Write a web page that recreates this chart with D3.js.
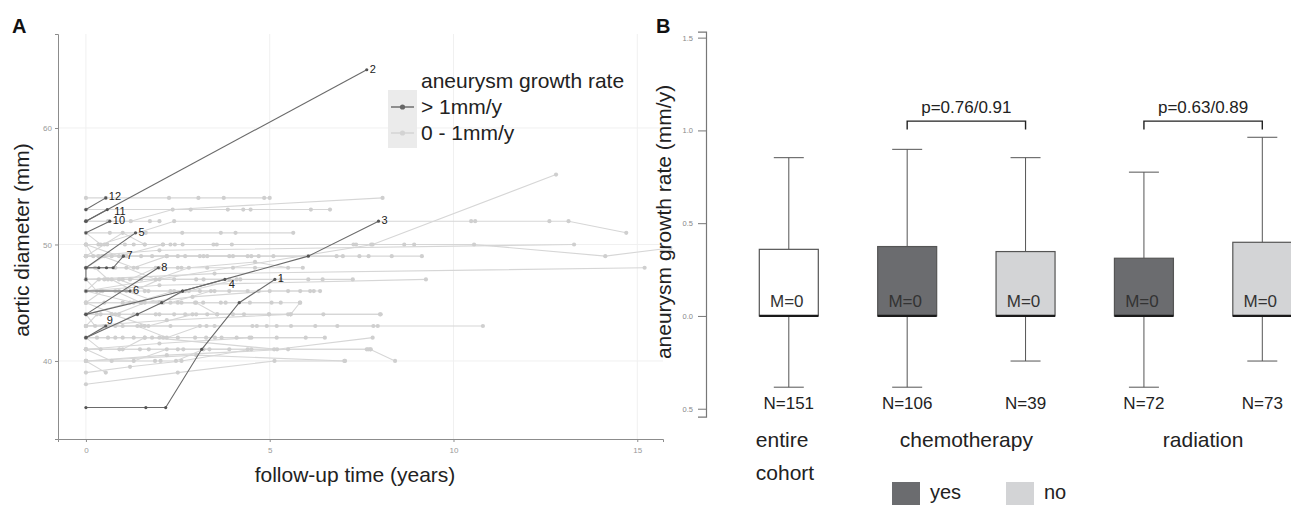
<!DOCTYPE html>
<html>
<head>
<meta charset="utf-8">
<script src="https://cdn.jsdelivr.net/npm/d3@7"></script>
<style>
  body { margin: 0; background: #fff; }
  svg text { font-family: "Liberation Sans", Arial, sans-serif; }
</style>
</head>
<body>
<svg id="chart" width="1291" height="505"></svg>
<script>
// ---------- panel A data: follow-up time (years), aortic diameter (mm)
const xTicksA = [0, 5, 10, 15];
const yTicksA = [40, 50, 60];

// patients with growth 0 - 1 mm/y
const slowSeries = [
  [[0,54],[0.54,54],[2.26,54],[3.06,54],[3.75,54],[4.85,54],[5.0,54]],
  [[0,53],[2.85,53],[3.86,53],[4.28,53],[4.48,53],[6.12,53],[6.64,53]],
  [[0,52],[1.22,52],[2.36,53],[8.07,54]],
  [[0,52],[0.6,52],[1.74,52],[2.0,52]],
  [[0,51],[0.65,51],[1.63,51],[2.62,51],[3.67,51],[4.07,51],[5.64,51]],
  [[0,51],[0.4,50],[2.4,52],[10.48,52],[10.59,52],[12.61,52],[13.13,52],[14.7,51]],
  [[0,50],[0.34,50],[0.58,50],[1.06,50],[1.6,50],[2.09,50],[2.42,50],[2.63,50],[3.47,50],[3.56,50],[3.97,50]],
  [[0,50],[0.9,49],[2.1,50],[7.28,50],[7.35,50],[7.76,50],[8.66,50],[8.93,50]],
  [[0,50],[1.3,50],[10.56,50],[14.13,49],[15.9,49.7]],
  [[0,49],[2.0,49.5],[13.28,50]],
  [[0,49],[0.34,49],[0.7,49],[1.1,49],[1.5,49],[2.2,49],[2.7,49],[3.3,49],[3.9,49],[4.5,49],[5.1,49],[6.82,49],[6.99,49]],
  [[0,49],[1.0,49],[2.5,49],[4.0,49],[7.44,49],[7.69,49],[8.32,49],[9.14,49]],
  [[0,48],[0.5,49],[1.8,49],[3.2,49],[4.4,49]],
  [[0,48],[0.8,48],[1.4,48],[2.0,48],[2.6,48],[3.3,48],[4.0,48],[4.6,48],[5.9,48]],
  [[0,47],[3.5,47.5],[15.2,48]],
  [[0,46],[7.8,50],[12.79,56]],
  [[0,48],[1.1,48],[1.9,47],[2.8,48],[4.6,48.5],[5.5,48]],
  [[0,47],[0.5,47],[1.0,47],[1.5,47],[2.4,47],[3.2,47],[4.2,47],[5.3,47],[6.05,47],[6.44,47],[7.26,47]],
  [[0,46],[2.0,46.5],[9.25,47]],
  [[0,47],[0.7,47],[1.3,46],[2.0,47],[3.0,47],[3.9,47]],
  [[0,46],[0.4,46],[0.9,46],[1.6,46],[2.3,46],[3.1,46],[3.9,46],[4.7,46],[5.5,46],[5.83,46],[6.1,46],[6.37,46]],
  [[0,46],[1.3,45],[2.4,46],[3.5,46],[4.4,46]],
  [[0,45],[1.5,45],[2.9,45.5],[5.0,46],[6.2,46]],
  [[0,45],[0.5,45],[1.0,45],[1.5,45],[2.1,45],[2.97,45],[3.19,45],[3.67,45],[3.8,45],[4.46,45],[5.05,45],[5.3,45]],
  [[0,45],[0.8,44],[1.6,45],[2.5,45],[3.0,45],[3.57,44],[4.98,44],[5.57,44],[5.82,45]],
  [[0,44],[1.2,45],[2.6,45],[5.83,45]],
  [[0,44],[0.4,44],[0.9,44],[1.4,44],[2.0,44],[2.7,44],[3.57,44],[4.98,44],[5.57,44],[6.46,44],[8.02,44]],
  [[0,44],[0.7,44],[1.7,43],[2.9,44],[4.0,44]],
  [[0,43],[2.2,43.5],[5.5,44],[8.0,44]],
  [[0,43],[0.5,43],[1.0,43],[1.6,43],[2.3,43],[3.28,43],[4.53,43],[4.65,43],[4.92,43],[5.19,43],[5.58,43],[6.24,43],[6.84,43],[7.82,43],[7.94,43]],
  [[0,43],[1.5,43],[3.5,43],[10.8,43]],
  [[0,42],[0.6,43],[1.4,43],[2.2,42],[3.1,43]],
  [[0,42],[0.3,42],[0.6,42],[0.8,42],[1.0,42],[1.3,42],[1.6,42],[2.0,42],[2.5,42],[2.97,42],[3.27,42],[3.51,42],[3.69,42],[4.1,42],[4.45,42],[5.19,42],[5.98,42]],
  [[0,42],[1.8,42],[5.2,41],[7.8,42]],
  [[0,41],[2.0,41.5],[4.5,42],[6.5,42]],
  [[0,41],[0.91,41],[1.47,41],[1.71,41],[2.65,41],[3.36,41],[4.4,41],[5.12,41]],
  [[0,41],[2.5,41],[7.64,41],[7.73,41],[8.41,40]],
  [[0,40],[2.2,40.5],[5.5,41],[7.68,41],[7.75,41]],
  [[0,40],[1.88,40],[2.03,40],[2.45,40],[3.2,41]],
  [[0,40],[0.54,39]],
  [[0,40],[3.0,40.5],[7.05,40]],
  [[0,39],[1.2,39.5],[2.6,40],[4.5,41]],
  [[0,38],[2.5,39],[5.13,40],[7.03,40]],
  [[0,50],[0.2,49],[0.45,49],[1.3,48],[2.2,49],[3.1,49],[4.7,49]],
  [[0,48],[0.25,48],[0.6,47],[1.2,47],[1.9,48],[2.5,48]],
  [[0,47],[0.3,46],[0.8,46],[1.5,45],[2.3,45],[3.4,46]],
  [[0,46],[0.35,47],[0.9,47],[1.7,46],[2.8,46],[4.1,47]],
  [[0,45],[0.45,46],[1.1,46],[2.0,45],[2.7,46]],
  [[0,44],[0.25,43],[0.8,43],[1.3,44],[2.4,44],[3.3,44]],
  [[0,43],[0.3,44],[0.7,44],[1.9,44],[3.0,44],[4.3,44]],
  [[0,42],[0.4,41],[1.0,41],[1.6,42],[2.1,42]],
  [[0,41],[0.7,40],[1.3,40],[2.2,41],[3.9,41]],
  [[0,49],[0.5,50],[1.0,51],[1.6,50],[2.3,50]]
];

// patients with growth > 1 mm/y (numbered)
const fastIds = ["1","2","3","4","5","6","7","8","9","10","11","12"];
const fastSeries = [
  [[0,36],[1.63,36],[2.17,36],[3.15,41],[4.17,45],[5.14,47]],
  [[0,52],[7.64,65]],
  [[0,44],[2.63,46],[6.05,49],[7.96,52]],
  [[0,42],[1.4,44],[2.06,45],[2.63,46],[3.78,47]],
  [[0,48],[1.35,51]],
  [[0,46],[1.2,46]],
  [[0,47],[0,48],[0.35,48],[0.56,48],[0.74,48],[1.02,49]],
  [[0,44],[1.97,48]],
  [[0,42],[0.54,43]],
  [[0,51],[0.65,52]],
  [[0,52],[0.58,53]],
  [[0,53],[0.54,54]]
];
const legendA = ["> 1mm/y", "0 - 1mm/y"];

// ---------- panel B data: aneurysm growth rate (mm/y)
const groups = ["entire", "chemoYes", "chemoNo", "radYes", "radNo"];
const groupType = ["all", "yes", "no", "yes", "no"];
const q1 = [0, 0, 0, 0, 0];
const median = [0, 0, 0, 0, 0];
const q3 = [0.359, 0.374, 0.347, 0.311, 0.397];
const whiskLo = [-0.384, -0.384, -0.243, -0.384, -0.243];
const whiskHi = [0.853, 0.898, 0.853, 0.775, 0.963];
const counts = [151, 106, 39, 72, 73];
const yTicksB = [-0.5, 0, 0.5, 1.0, 1.5];
const yTickLabelsB = ["0.5", "0.0", "0.5", "1.0", "1.5"];
const pTests = [
  { a: "chemoYes", b: "chemoNo", label: "p=0.76/0.91" },
  { a: "radYes", b: "radNo", label: "p=0.63/0.89" }
];
const legendB = ["yes", "no"];

const svg = d3.select("#chart");
const darkCol = "#6b6c6f";
const lightCol = "#d3d4d6";

// ================= PANEL A =================
const xA = d3.scaleLinear().domain([-0.76, 15.7]).range([58, 663]);
const yA = d3.scaleLinear().domain([33.3, 68.07]).range([439, 34]);
const gA = svg.append("g");

// grid
gA.selectAll(".gx").data(xTicksA).join("line")
  .attr("x1", d => xA(d)).attr("x2", d => xA(d))
  .attr("y1", 34).attr("y2", 439)
  .attr("stroke", "#f0f0f0");
gA.selectAll(".gy").data(yTicksA).join("line")
  .attr("y1", d => yA(d)).attr("y2", d => yA(d))
  .attr("x1", 58).attr("x2", 663)
  .attr("stroke", "#f0f0f0");

// axes
const axA_x = gA.append("g").attr("transform", "translate(0,439)")
  .call(d3.axisBottom(xA).tickValues(xTicksA).tickSize(3).tickPadding(5));
const axA_y = gA.append("g").attr("transform", "translate(58,0)")
  .call(d3.axisLeft(yA).tickValues(yTicksA).tickSize(3).tickPadding(3));
[axA_x, axA_y].forEach(ax => {
  ax.select(".domain").attr("stroke", "#8c8c8c");
  ax.selectAll(".tick line").attr("stroke", "#8c8c8c");
  ax.selectAll(".tick text").attr("fill", "#999").style("font-size", "8px");
});

const line = d3.line().x(d => xA(d[0])).y(d => yA(d[1]));

gA.selectAll(".slow").data(slowSeries).join("path")
  .attr("d", line).attr("fill", "none")
  .attr("stroke", "#d6d6d6").attr("stroke-width", 1.1);
gA.selectAll(".slowpt").data(slowSeries.flat()).join("circle")
  .attr("cx", d => xA(d[0])).attr("cy", d => yA(d[1]))
  .attr("r", 2.1).attr("fill", "#cfcfcf");

gA.selectAll(".fast").data(fastSeries).join("path")
  .attr("d", line).attr("fill", "none")
  .attr("stroke", "#6a6a6a").attr("stroke-width", 1.1);
gA.selectAll(".fastpt").data(fastSeries.flat()).join("circle")
  .attr("cx", d => xA(d[0])).attr("cy", d => yA(d[1]))
  .attr("r", 1.6).attr("fill", "#555");

// numbered labels at the last point
const nudge = { "4": [4, 5], "9": [1, -6], "11": [7, 1], "12": [3, -2] };
gA.selectAll(".flab").data(fastSeries).join("text")
  .attr("x", (d, i) => xA(d[d.length - 1][0]) + (nudge[fastIds[i]] ? nudge[fastIds[i]][0] : 3))
  .attr("y", (d, i) => yA(d[d.length - 1][1]) + (nudge[fastIds[i]] ? nudge[fastIds[i]][1] : -1) + 4)
  .style("font-size", "11px").attr("fill", "#222")
  .text((d, i) => fastIds[i]);

// legend
gA.append("rect").attr("x", 388).attr("y", 90).attr("width", 29).attr("height", 58).attr("fill", "#ebebeb");
gA.append("text").attr("x", 421).attr("y", 88).style("font-size", "21px").attr("fill", "#222")
  .text("aneurysm growth rate");
legendA.forEach((lab, i) => {
  const cy = 107 + i * 26;
  const col = i === 0 ? "#666" : "#d3d3d3";
  gA.append("line").attr("x1", 391).attr("x2", 414).attr("y1", cy).attr("y2", cy)
    .attr("stroke", col).attr("stroke-width", 1.4);
  gA.append("circle").attr("cx", 402.5).attr("cy", cy).attr("r", 2.6).attr("fill", col);
  gA.append("text").attr("x", 421).attr("y", cy + 7).style("font-size", "21px").attr("fill", "#222").text(lab);
});

// titles
gA.append("text").attr("x", 355).attr("y", 482).attr("text-anchor", "middle")
  .style("font-size", "21px").attr("fill", "#222").text("follow-up time (years)");
gA.append("text").attr("transform", "translate(29,240) rotate(-90)").attr("text-anchor", "middle")
  .style("font-size", "21px").attr("fill", "#222").text("aortic diameter (mm)");
svg.append("text").attr("x", 12).attr("y", 32.5).style("font-size", "20px").style("font-weight", "bold")
  .attr("fill", "#111").text("A");

// ================= PANEL B =================
const xB = d3.scalePoint().domain(groups).range([788.8, 1262.3]);
const yB = d3.scaleLinear().domain([-0.543, 1.532]).range([416.7, 31.7]);
const gB = svg.append("g");
const boxW = 59, capW = 30;

const axB = gB.append("g").attr("transform", "translate(706,0)")
  .call(d3.axisLeft(yB).tickValues(yTicksB).tickSize(8).tickPadding(5)
    .tickFormat((d, i) => yTickLabelsB[i]));
axB.select(".domain").attr("stroke", "#777").attr("stroke-width", 1.2);
axB.selectAll(".tick line").attr("stroke", "#777");
axB.selectAll(".tick text").attr("fill", "#888").style("font-size", "7.5px");

gB.append("text").attr("transform", "translate(671,222) rotate(-90)").attr("text-anchor", "middle")
  .style("font-size", "21px").attr("fill", "#222").text("aneurysm growth rate (mm/y)");
svg.append("text").attr("x", 656).attr("y", 32.5).style("font-size", "20px").style("font-weight", "bold")
  .attr("fill", "#111").text("B");

const fillFor = t => t === "yes" ? darkCol : t === "no" ? lightCol : "#fff";
groups.forEach((g, i) => {
  const cx = xB(g);
  const col = "#555";
  // whiskers
  gB.append("line").attr("x1", cx).attr("x2", cx).attr("y1", yB(q3[i])).attr("y2", yB(whiskHi[i])).attr("stroke", col);
  gB.append("line").attr("x1", cx).attr("x2", cx).attr("y1", yB(q1[i])).attr("y2", yB(whiskLo[i])).attr("stroke", col);
  gB.append("line").attr("x1", cx - capW / 2).attr("x2", cx + capW / 2).attr("y1", yB(whiskHi[i])).attr("y2", yB(whiskHi[i])).attr("stroke", col);
  gB.append("line").attr("x1", cx - capW / 2).attr("x2", cx + capW / 2).attr("y1", yB(whiskLo[i])).attr("y2", yB(whiskLo[i])).attr("stroke", col);
  // box
  gB.append("rect").attr("x", cx - boxW / 2).attr("width", boxW)
    .attr("y", yB(q3[i])).attr("height", yB(q1[i]) - yB(q3[i]))
    .attr("fill", fillFor(groupType[i])).attr("stroke", col).attr("stroke-width", 1.2);
  gB.append("line").attr("x1", cx - boxW / 2).attr("x2", cx + boxW / 2)
    .attr("y1", yB(median[i])).attr("y2", yB(median[i])).attr("stroke", "#1a1a1a").attr("stroke-width", 2.2);
  gB.append("text").attr("x", cx - 2).attr("y", yB(median[i]) - 9).attr("text-anchor", "middle")
    .style("font-size", "17px").attr("fill", "#333").text("M=" + median[i]);
  gB.append("text").attr("x", cx).attr("y", 409).attr("text-anchor", "middle")
    .style("font-size", "17px").attr("fill", "#222").text("N=" + counts[i]);
});

// p-value brackets
pTests.forEach(p => {
  const x1 = xB(p.a), x2 = xB(p.b);
  const yTop = yB(1.05), yEnd = yB(1.005);
  gB.append("path").attr("d", `M${x1},${yEnd}V${yTop}H${x2}V${yEnd}`)
    .attr("fill", "none").attr("stroke", "#222").attr("stroke-width", 1.4);
  gB.append("text").attr("x", (x1 + x2) / 2).attr("y", yB(1.095)).attr("text-anchor", "middle")
    .style("font-size", "17px").attr("fill", "#222").text(p.label);
});

// category labels
gB.append("text").attr("x", xB("entire") - 33).attr("y", 447).style("font-size", "21px").attr("fill", "#222").text("entire");
gB.append("text").attr("x", xB("entire") - 33).attr("y", 480).style("font-size", "21px").attr("fill", "#222").text("cohort");
gB.append("text").attr("x", (xB("chemoYes") + xB("chemoNo")) / 2).attr("y", 447).attr("text-anchor", "middle")
  .style("font-size", "21px").attr("fill", "#222").text("chemotherapy");
gB.append("text").attr("x", (xB("radYes") + xB("radNo")) / 2).attr("y", 447).attr("text-anchor", "middle")
  .style("font-size", "21px").attr("fill", "#222").text("radiation");

// legend
legendB.forEach((lab, i) => {
  const x0 = 892 + i * 114;
  gB.append("rect").attr("x", x0).attr("y", 482).attr("width", 28).attr("height", 26)
    .attr("fill", i === 0 ? darkCol : lightCol);
  gB.append("text").attr("x", x0 + 38).attr("y", 499).style("font-size", "20px").attr("fill", "#222").text(lab);
});
</script>
</body>
</html>
